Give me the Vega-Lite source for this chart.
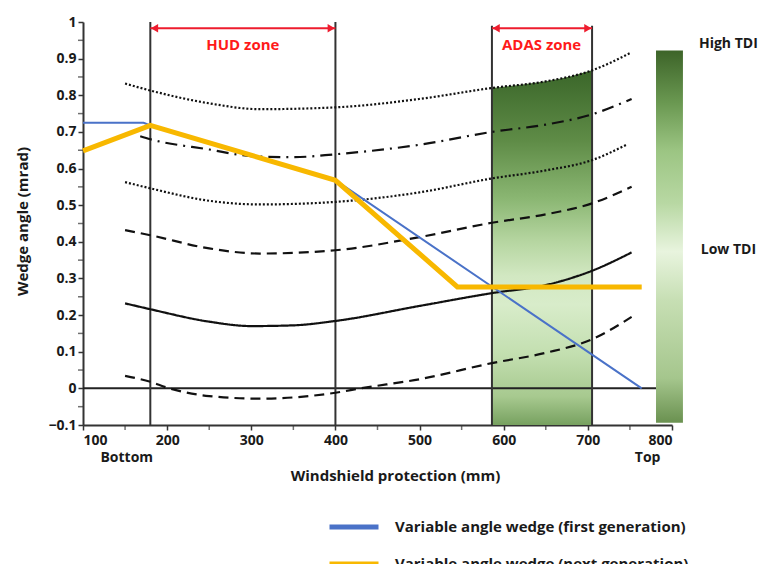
{
  "$schema": "https://vega.github.io/schema/vega-lite/v6.json",
  "width": 589,
  "height": 403,
  "autosize": {"type": "none"},
  "padding": {"left": 83, "top": 22, "right": 107, "bottom": 139},
  "background": "white",
  "config": {
    "view": {"stroke": null},
    "font": "Open Sans",
    "axis": {
      "labelFont": "Open Sans", "labelFontWeight": "bold", "labelFontSize": 14, "labelColor": "#1a1a1a", "labelOverlap": false, "labelSeparation": 0,
      "titleFont": "Open Sans", "titleFontWeight": "bold", "titleFontSize": 15, "titleColor": "#1a1a1a",
      "domainColor": "#333333", "domainWidth": 2, "tickColor": "#333333", "tickWidth": 1.5, "tickSize": 5, "grid": false
    },
    "axisY": {"labelOverlap": false},
    "axisLeft": {"labelOverlap": false},
    "axisQuantitative": {"labelOverlap": false}
  },
  "datasets": {
    "curves": [
      {"curve": "c1", "style": "dotted", "x": 150, "y": 0.832}, {"curve": "c1", "style": "dotted", "x": 180, "y": 0.813}, {"curve": "c1", "style": "dotted", "x": 250, "y": 0.778}, {"curve": "c1", "style": "dotted", "x": 310, "y": 0.762}, {"curve": "c1", "style": "dotted", "x": 400, "y": 0.767}, {"curve": "c1", "style": "dotted", "x": 500, "y": 0.79}, {"curve": "c1", "style": "dotted", "x": 586, "y": 0.82}, {"curve": "c1", "style": "dotted", "x": 650, "y": 0.838}, {"curve": "c1", "style": "dotted", "x": 705, "y": 0.868}, {"curve": "c1", "style": "dotted", "x": 750, "y": 0.915},
      {"curve": "c2", "style": "dashdot", "x": 168, "y": 0.688}, {"curve": "c2", "style": "dashdot", "x": 180, "y": 0.68}, {"curve": "c2", "style": "dashdot", "x": 250, "y": 0.652}, {"curve": "c2", "style": "dashdot", "x": 300, "y": 0.634}, {"curve": "c2", "style": "dashdot", "x": 350, "y": 0.631}, {"curve": "c2", "style": "dashdot", "x": 400, "y": 0.639}, {"curve": "c2", "style": "dashdot", "x": 500, "y": 0.665}, {"curve": "c2", "style": "dashdot", "x": 586, "y": 0.70}, {"curve": "c2", "style": "dashdot", "x": 650, "y": 0.72}, {"curve": "c2", "style": "dashdot", "x": 705, "y": 0.748}, {"curve": "c2", "style": "dashdot", "x": 752, "y": 0.79},
      {"curve": "c3", "style": "dotted", "x": 150, "y": 0.563}, {"curve": "c3", "style": "dotted", "x": 180, "y": 0.546}, {"curve": "c3", "style": "dotted", "x": 250, "y": 0.512}, {"curve": "c3", "style": "dotted", "x": 310, "y": 0.502}, {"curve": "c3", "style": "dotted", "x": 400, "y": 0.509}, {"curve": "c3", "style": "dotted", "x": 500, "y": 0.535}, {"curve": "c3", "style": "dotted", "x": 586, "y": 0.573}, {"curve": "c3", "style": "dotted", "x": 650, "y": 0.595}, {"curve": "c3", "style": "dotted", "x": 705, "y": 0.623}, {"curve": "c3", "style": "dotted", "x": 746, "y": 0.665},
      {"curve": "c4", "style": "dashed", "x": 150, "y": 0.432}, {"curve": "c4", "style": "dashed", "x": 180, "y": 0.418}, {"curve": "c4", "style": "dashed", "x": 250, "y": 0.382}, {"curve": "c4", "style": "dashed", "x": 310, "y": 0.368}, {"curve": "c4", "style": "dashed", "x": 400, "y": 0.377}, {"curve": "c4", "style": "dashed", "x": 500, "y": 0.413}, {"curve": "c4", "style": "dashed", "x": 586, "y": 0.452}, {"curve": "c4", "style": "dashed", "x": 650, "y": 0.475}, {"curve": "c4", "style": "dashed", "x": 705, "y": 0.505}, {"curve": "c4", "style": "dashed", "x": 752, "y": 0.55},
      {"curve": "c5", "style": "solid", "x": 150, "y": 0.232}, {"curve": "c5", "style": "solid", "x": 180, "y": 0.216}, {"curve": "c5", "style": "solid", "x": 250, "y": 0.182}, {"curve": "c5", "style": "solid", "x": 300, "y": 0.17}, {"curve": "c5", "style": "solid", "x": 350, "y": 0.172}, {"curve": "c5", "style": "solid", "x": 400, "y": 0.184}, {"curve": "c5", "style": "solid", "x": 500, "y": 0.225}, {"curve": "c5", "style": "solid", "x": 586, "y": 0.26}, {"curve": "c5", "style": "solid", "x": 650, "y": 0.282}, {"curve": "c5", "style": "solid", "x": 705, "y": 0.321}, {"curve": "c5", "style": "solid", "x": 752, "y": 0.371},
      {"curve": "c6", "style": "dashed", "x": 150, "y": 0.034}, {"curve": "c6", "style": "dashed", "x": 180, "y": 0.018}, {"curve": "c6", "style": "dashed", "x": 200, "y": 0.002}, {"curve": "c6", "style": "dashed", "x": 250, "y": -0.021}, {"curve": "c6", "style": "dashed", "x": 310, "y": -0.028}, {"curve": "c6", "style": "dashed", "x": 400, "y": -0.012}, {"curve": "c6", "style": "dashed", "x": 430, "y": 0.0}, {"curve": "c6", "style": "dashed", "x": 500, "y": 0.025}, {"curve": "c6", "style": "dashed", "x": 586, "y": 0.069}, {"curve": "c6", "style": "dashed", "x": 650, "y": 0.097}, {"curve": "c6", "style": "dashed", "x": 705, "y": 0.134}, {"curve": "c6", "style": "dashed", "x": 752, "y": 0.195}
    ],
    "wedges": [
      {"series": "Variable angle wedge (first generation)", "x": 100, "y": 0.725},
      {"series": "Variable angle wedge (first generation)", "x": 172, "y": 0.725},
      {"series": "Variable angle wedge (first generation)", "x": 180, "y": 0.718},
      {"series": "Variable angle wedge (first generation)", "x": 400, "y": 0.568},
      {"series": "Variable angle wedge (first generation)", "x": 764, "y": 0.0},
      {"series": "Variable angle wedge (next generation)", "x": 100, "y": 0.648},
      {"series": "Variable angle wedge (next generation)", "x": 180, "y": 0.718},
      {"series": "Variable angle wedge (next generation)", "x": 400, "y": 0.568},
      {"series": "Variable angle wedge (next generation)", "x": 545, "y": 0.277},
      {"series": "Variable angle wedge (next generation)", "x": 764, "y": 0.277}
    ],
    "adas": [
      {"x": 586, "y": 0.82, "y2": -0.1}, {"x": 620, "y": 0.829, "y2": -0.1}, {"x": 650, "y": 0.838, "y2": -0.1}, {"x": 680, "y": 0.852, "y2": -0.1}, {"x": 705, "y": 0.868, "y2": -0.1}
    ],
    "zones": [
      {"x": 180, "ybot": -0.1, "ytop": 1.0}, {"x": 400, "ybot": -0.1, "ytop": 1.0}, {"x": 586, "ybot": -0.1, "ytop": 0.99}, {"x": 705, "ybot": -0.1, "ytop": 0.99}
    ],
    "arrows": [
      {"zone": "HUD zone", "x": 180, "x2": 400, "y": 0.983, "label": 290, "ylab": 0.936},
      {"zone": "ADAS zone", "x": 586, "x2": 705, "y": 0.983, "label": 645, "ylab": 0.936}
    ],
    "heads": [
      {"x": 185, "y": 0.983, "dir": "left"}, {"x": 395, "y": 0.983, "dir": "right"}, {"x": 591, "y": 0.983, "dir": "left"}, {"x": 700, "y": 0.983, "dir": "right"}
    ],
    "notes": [
      {"text": "High TDI", "x": 867, "y": 0.939},
      {"text": "Low TDI", "x": 867, "y": 0.377},
      {"text": "Bottom", "x": 152, "y": -0.19},
      {"text": "Top", "x": 771, "y": -0.19}
    ],
    "yminor": [
      {"x": 100, "y": -0.05}, {"x": 100, "y": 0.05}, {"x": 100, "y": 0.15}, {"x": 100, "y": 0.25}, {"x": 100, "y": 0.35}, {"x": 100, "y": 0.45}, {"x": 100, "y": 0.55}, {"x": 100, "y": 0.65}, {"x": 100, "y": 0.75}, {"x": 100, "y": 0.85}, {"x": 100, "y": 0.95}
    ],
    "xminor": [
      {"x": 150, "y": -0.1}, {"x": 250, "y": -0.1}, {"x": 350, "y": -0.1}, {"x": 450, "y": -0.1}, {"x": 550, "y": -0.1}, {"x": 650, "y": -0.1}, {"x": 750, "y": -0.1}
    ]
  },
  "encoding": {
    "x": {"type": "quantitative", "scale": {"domain": [100, 800], "nice": false, "zero": false}, "axis": {"values": [100,200,300,400,500,600,700,800], "format": "d", "labelOverlap": false, "title": "Windshield protection (mm)", "titleX": 312, "titleY": 50, "titleBaseline": "middle", "labelPadding": 3}},
    "y": {"type": "quantitative", "scale": {"domain": [-0.1, 1], "nice": false, "zero": false}, "axis": {"values": [-0.1,0,0.1,0.2,0.3,0.4,0.5,0.6,0.7,0.8,0.9,1], "format": ".1~f", "labelOverlap": false, "labelFlush": false, "title": "Wedge angle (mrad)", "titleX": -61, "titleY": 199, "titleBaseline": "middle", "titleAngle": -90}}
  },
  "layer": [
    {
      "data": {"values": [{"x": 781, "x2": 813, "y": 0.922, "y2": -0.094}]},
      "mark": {"type": "rect", "clip": false, "color": {"gradient": "linear", "x1": 0, "y1": 0, "x2": 0, "y2": 1, "stops": [
        {"offset": 0, "color": "#3d6429"}, {"offset": 0.14, "color": "#6a9851"}, {"offset": 0.27, "color": "#9cc583"}, {"offset": 0.41, "color": "#b8d8a3"}, {"offset": 0.54, "color": "#e8f4de"}, {"offset": 0.67, "color": "#c7dfb4"}, {"offset": 0.88, "color": "#a5c68d"}, {"offset": 1, "color": "#6a9150"}]}},
      "encoding": {
        "x": {"field": "x", "type": "quantitative", "scale": {"domain": [100, 800], "nice": false, "zero": false}, "axis": {"values": [100,200,300,400,500,600,700,800], "format": "d", "labelOverlap": false, "title": "Windshield protection (mm)", "titleX": 312, "titleY": 50, "titleBaseline": "middle", "labelPadding": 3}},
        "x2": {"field": "x2"},
        "y": {"field": "y", "type": "quantitative", "scale": {"domain": [-0.1, 1], "nice": false, "zero": false}, "axis": {"values": [-0.1,0,0.1,0.2,0.3,0.4,0.5,0.6,0.7,0.8,0.9,1], "format": ".1~f", "labelOverlap": false, "labelFlush": false, "title": "Wedge angle (mrad)", "titleX": -61, "titleY": 199, "titleBaseline": "middle", "titleAngle": -90}},
        "y2": {"field": "y2"}
      }
    },
    {
      "data": {"name": "adas"},
      "mark": {"type": "area", "interpolate": "monotone", "color": {"gradient": "linear", "x1": 0, "y1": 0, "x2": 0, "y2": 1, "stops": [
        {"offset": 0, "color": "#3a6629"}, {"offset": 0.2, "color": "#5f8c47"}, {"offset": 0.36, "color": "#8ab672"}, {"offset": 0.48, "color": "#b5d5a0"}, {"offset": 0.58, "color": "#d2e8c2"}, {"offset": 0.66, "color": "#d8ecca"}, {"offset": 0.8, "color": "#c3dfb0"}, {"offset": 0.92, "color": "#a7c98f"}, {"offset": 1, "color": "#77a160"}]}},
      "encoding": {
        "x": {"field": "x", "type": "quantitative"},
        "y": {"field": "y", "type": "quantitative"},
        "y2": {"field": "y2"}
      }
    },
    {
      "data": {"name": "yminor"},
      "mark": {"type": "tick", "orient": "horizontal", "color": "#333333", "size": 5, "thickness": 1.5, "xOffset": -2.5, "clip": false},
      "encoding": {"x": {"field": "x", "type": "quantitative"}, "y": {"field": "y", "type": "quantitative"}}
    },
    {
      "data": {"name": "xminor"},
      "mark": {"type": "tick", "orient": "vertical", "color": "#333333", "size": 5, "thickness": 1.5, "yOffset": 2.5, "clip": false},
      "encoding": {"x": {"field": "x", "type": "quantitative"}, "y": {"field": "y", "type": "quantitative"}}
    },
    {
      "data": {"values": [{"y": 0, "x": 100, "x2": 781}]},
      "mark": {"type": "rule", "color": "#222222", "strokeWidth": 2, "clip": false},
      "encoding": {"x": {"field": "x", "type": "quantitative"}, "x2": {"field": "x2"}, "y": {"field": "y", "type": "quantitative"}}
    },
    {
      "data": {"name": "zones"},
      "mark": {"type": "rule", "color": "#333333", "strokeWidth": 2},
      "encoding": {"x": {"field": "x", "type": "quantitative"}, "y": {"field": "ybot", "type": "quantitative"}, "y2": {"field": "ytop"}}
    },
    {
      "data": {"name": "curves"},
      "mark": {"type": "line", "interpolate": "monotone", "color": "#111111", "strokeWidth": 2.2},
      "encoding": {
        "x": {"field": "x", "type": "quantitative"},
        "y": {"field": "y", "type": "quantitative"},
        "detail": {"field": "curve", "type": "nominal"},
        "strokeDash": {"field": "style", "type": "nominal", "scale": {"domain": ["dotted", "dashdot", "dashed", "solid"], "range": [[2, 2], [12, 6, 2, 6], [10, 6], [1, 0]]}, "legend": null}
      }
    },
    {
      "data": {"name": "wedges"},
      "transform": [{"filter": "datum.series === 'Variable angle wedge (first generation)'"}],
      "mark": {"type": "line", "strokeWidth": 2, "color": "#4a72c8"},
      "encoding": {
        "x": {"field": "x", "type": "quantitative"},
        "y": {"field": "y", "type": "quantitative"}
      }
    },
    {
      "data": {"name": "wedges"},
      "transform": [{"filter": "datum.series === 'Variable angle wedge (next generation)'"}],
      "mark": {"type": "line", "strokeWidth": 5},
      "encoding": {
        "x": {"field": "x", "type": "quantitative"},
        "y": {"field": "y", "type": "quantitative"},
        "color": {"field": "series", "type": "nominal", "scale": {"domain": ["Variable angle wedge (first generation)", "Variable angle wedge (next generation)"], "range": ["#4a72c8", "#f8b800"]},
          "legend": {"title": null, "orient": "none", "legendX": 244, "legendY": 478, "symbolType": "stroke", "symbolSize": 2401, "symbolStrokeWidth": 5, "labelFont": "Open Sans", "labelFontWeight": "bold", "labelFontSize": 15, "labelColor": "#1a1a1a", "labelOffset": 14, "labelLimit": 0, "rowPadding": -16, "padding": 0}}
      }
    },
    {
      "data": {"name": "arrows"},
      "mark": {"type": "rule", "color": "#ee1c2e", "strokeWidth": 2},
      "encoding": {"x": {"field": "x", "type": "quantitative"}, "x2": {"field": "x2"}, "y": {"field": "y", "type": "quantitative"}}
    },
    {
      "data": {"name": "heads"},
      "mark": {"type": "point", "filled": true, "color": "#ee1c2e", "size": 70, "opacity": 1},
      "encoding": {
        "x": {"field": "x", "type": "quantitative"},
        "y": {"field": "y", "type": "quantitative"},
        "shape": {"field": "dir", "type": "nominal", "scale": {"domain": ["left", "right"], "range": ["triangle-left", "triangle-right"]}, "legend": null}
      }
    },
    {
      "data": {"name": "arrows"},
      "mark": {"type": "text", "color": "#ff1a1a", "fontWeight": "bold", "fontSize": 15, "font": "Open Sans"},
      "encoding": {"x": {"field": "label", "type": "quantitative"}, "y": {"field": "ylab", "type": "quantitative"}, "text": {"field": "zone"}}
    },
    {
      "data": {"name": "notes"},
      "mark": {"type": "text", "color": "#1a1a1a", "fontWeight": "bold", "fontSize": 14, "font": "Open Sans", "clip": false},
      "encoding": {"x": {"field": "x", "type": "quantitative"}, "y": {"field": "y", "type": "quantitative"}, "text": {"field": "text"}}
    }
  ]
}
